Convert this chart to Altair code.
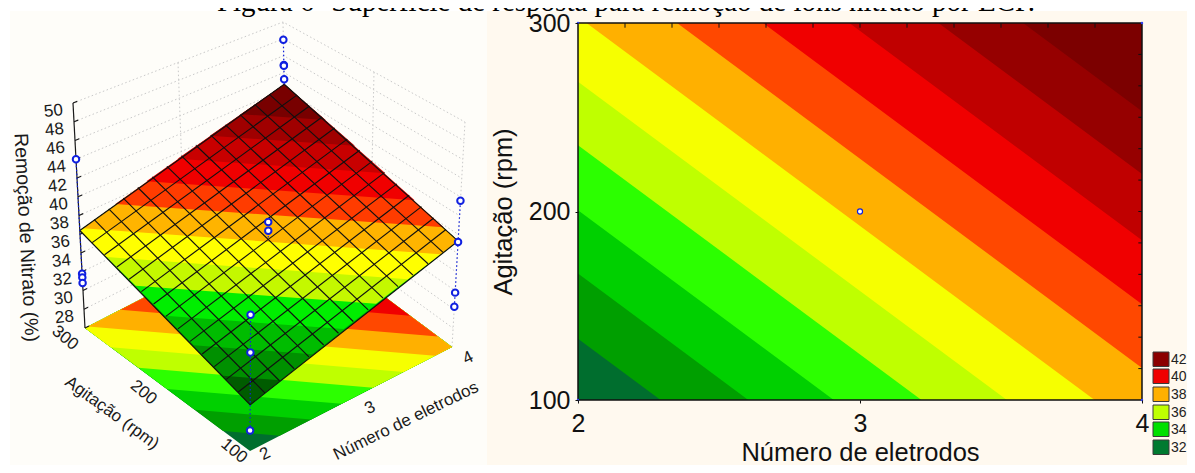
import altair as alt
import pandas as pd

# ---------- values ----------
TITLE = "Figura 6- Superfície de resposta para remoção de íons nitrato por ECP."
X_TICKS = [2, 3, 4]
Y_TICKS = [100, 200, 300]
Z_TICKS = [28, 30, 32, 34, 36, 38, 40, 42, 44, 46, 48, 50]
LEGEND_LABELS = ["42", "40", "38", "36", "34", "32"]
LEGEND_COLORS = ["#8b0000", "#f00000", "#ffb000", "#bfff00", "#00e000", "#007a30"]
LEGEND_TOPS = [344, 361, 379, 397, 414, 432]

# electrode count where each contour level (32..42) meets 100 rpm (past 4 = extended)
LEVEL_X_AT_100 = [2.293, 2.604, 2.907, 3.218, 3.521, 3.832, 4.153, 4.458, 4.764, 5.08, 5.38]
LEVEL_SLOPE = 111.0  # rpm per electrode along a contour
FLAT_COLORS = ["#006e2e", "#009f00", "#00d000", "#2cff00", "#bfff00", "#f6ff00",
               "#ffb000", "#ff4800", "#f00000", "#c00000", "#960000", "#7c0000"]
SURF_COLORS = ["#005c00", "#009000", "#00bc00", "#00ee00", "#c4f800", "#ffff00",
               "#ffb400", "#ff3c00", "#f00000", "#c80000", "#a00000", "#780000"]

# surface height at the four corners (electrodes, rpm, %)
SURF_Z = {(2, 100): 30.5, (2, 300): 36.4, (4, 100): 37.3, (4, 300): 42.6}
MESH_CELLS = 14

# design points: electrodes, rpm, removal %
OBS_X = [4, 4, 4, 4, 2, 2, 2, 2, 4, 4, 4, 4, 3, 3, 2, 2, 2]
OBS_Y = [300, 300, 300, 300, 300, 300, 300, 300, 100, 100, 100, 100, 200, 200, 100, 100, 100]
OBS_Z = [47.9, 44.9, 44.8, 43.2, 44.0, 31.8, 31.4, 30.8, 41.6, 37.2, 31.8, 30.3,
         38.35, 37.4, 39.3, 35.6, 28.0]

# screen position of the 3D box corners, for the camera
FLOOR = {(2, 100): (242, 443), (2, 300): (77, 320), (4, 100): (444, 339), (4, 300): (279, 216)}
ROOF = {(2, 100): (243, 197), (2, 300): (65, 95), (4, 100): (457, 114), (4, 300): (275, 14)}
Z0, Z1 = 26, 50

FONT = "Liberation Sans"
IDENTITY = dict(type="identity", scale=1, translate=[0, 0])


def bilinear(c, x, y):
    u, v = (x - 2) / 2, (y - 100) / 200
    a, b, d, e = c[(2, 100)], c[(4, 100)], c[(2, 300)], c[(4, 300)]
    return (1 - u) * (1 - v) * a + u * (1 - v) * b + (1 - u) * v * d + u * v * e


def project(x, y, z):
    w = (z - Z0) / (Z1 - Z0)
    fx = bilinear({k: p[0] for k, p in FLOOR.items()}, x, y)
    fy = bilinear({k: p[1] for k, p in FLOOR.items()}, x, y)
    tx = bilinear({k: p[0] for k, p in ROOF.items()}, x, y)
    ty = bilinear({k: p[1] for k, p in ROOF.items()}, x, y)
    return [fx + (tx - fx) * w, fy + (ty - fy) * w]


def level_y(xb, x):
    return 100 + (xb - x) * LEVEL_SLOPE


def clip_above(poly, xb):
    out = []
    for i, (x1, y1) in enumerate(poly):
        x2, y2 = poly[(i + 1) % len(poly)]
        d1, d2 = y1 - level_y(xb, x1), y2 - level_y(xb, x2)
        if d1 >= 0:
            out.append((x1, y1))
        if d1 * d2 < 0:
            t = d1 / (d1 - d2)
            out.append((x1 + (x2 - x1) * t, y1 + (y2 - y1) * t))
    return out


def band_polys():
    rect = [(2, 100), (4, 100), (4, 300), (2, 300)]
    yield 0, rect
    for i, xb in enumerate(LEVEL_X_AT_100):
        p = clip_above(rect, xb)
        if len(p) >= 3:
            yield i + 1, p


def poly_feature(points, color):
    ring = points + [points[0]]
    return {"type": "Feature", "properties": {"c": color},
            "geometry": {"type": "Polygon", "coordinates": [ring]}}


def line_feature(points):
    return {"type": "Feature", "properties": {},
            "geometry": {"type": "LineString", "coordinates": points}}


def surf(x, y):
    return project(x, y, bilinear(SURF_Z, x, y))


def polys_chart(features):
    return (alt.Chart(alt.Data(values=features))
            .mark_geoshape(stroke=None)
            .encode(fill=alt.Fill("properties.c:N", scale=None))
            .project(**IDENTITY))


def lines_chart(features, **kw):
    return (alt.Chart(alt.Data(values=features))
            .mark_geoshape(filled=False, **kw)
            .project(**IDENTITY))


def text_chart(rows, angle, size, **kw):
    df = pd.DataFrame(rows, columns=["lon", "lat", "t"])
    return (alt.Chart(df)
            .mark_text(font=FONT, fontSize=size, angle=angle, color="#1a1a1a", **kw)
            .encode(longitude="lon:Q", latitude="lat:Q", text="t:N")
            .project(**IDENTITY))


# ---------- left panel: 3D view ----------
left_bg = alt.Chart(pd.DataFrame({"a": [0]})).mark_rect(color="#fefdf9").encode(
    x=alt.value(2), x2=alt.value(479), y=alt.value(3), y2=alt.value(465))

wall = []
for z in list(range(Z0, Z1 + 1, 2)):
    wall.append(line_feature([project(2, 300, z), project(3, 300, z), project(4, 300, z),
                              project(4, 200, z), project(4, 100, z)]))
for x, y in [(3, 300), (4, 300), (4, 200), (4, 100)]:
    wall.append(line_feature([project(x, y, Z0), project(x, y, Z1)]))
walls = lines_chart(wall, stroke="#c9c9c9", strokeWidth=1, strokeDash=[1.5, 2.5])

floor = polys_chart([poly_feature([project(x, y, Z0) for x, y in p], FLAT_COLORS[i])
                     for i, p in band_polys()])
surface = polys_chart([poly_feature([surf(x, y) for x, y in p], SURF_COLORS[i])
                       for i, p in band_polys()])

mesh = []
for k in range(MESH_CELLS + 1):
    t = k / MESH_CELLS
    mesh.append(line_feature([surf(2 + 2 * t, 100), surf(2 + 2 * t, 300)]))
    mesh.append(line_feature([surf(2, 100 + 200 * t), surf(4, 100 + 200 * t)]))
mesh_chart = lines_chart(mesh, stroke="#101010", strokeWidth=1.15)

axis_lines = [line_feature([project(2, 300, Z0), project(2, 300, Z1)])]
for z in [Z0] + Z_TICKS:
    axis_lines.append(line_feature([project(2, 300, z), project(2.04, 300, z)]))
z_axis = lines_chart(axis_lines, stroke="#1a1a1a", strokeWidth=1.2)

drops = []
seen = {}
for x, y, z in zip(OBS_X, OBS_Y, OBS_Z):
    seen.setdefault((x, y), []).append(z)
for (x, y), zs in seen.items():
    s = bilinear(SURF_Z, x, y)
    drops.append(line_feature([project(x, y, min(zs + [s])), project(x, y, max(zs + [s]))]))
drop_chart = lines_chart(drops, stroke="#1020e0", strokeWidth=1.2, strokeDash=[1.5, 2.5])

obs_df = pd.DataFrame([project(x, y, z) for x, y, z in zip(OBS_X, OBS_Y, OBS_Z)],
                      columns=["lon", "lat"])
obs = (alt.Chart(obs_df)
       .mark_point(shape="circle", filled=True, fill="white", stroke="#1020e0",
                   strokeWidth=2, size=42, opacity=1)
       .encode(longitude="lon:Q", latitude="lat:Q")
       .project(**IDENTITY))


def shifted(x, y, z, dx, dy, text):
    p = project(x, y, z)
    return [p[0] + dx, p[1] + dy, text]


Y_LABEL_SHIFT = {100: (-16, 0), 200: (-24, 3), 300: (-20, 10)}
X_LABEL_SHIFT = {2: (15, 3), 3: (19, 9), 4: (16, 11)}

z_labels = text_chart([shifted(2, 300, z, -19.5, 8, str(z)) for z in Z_TICKS], 354, 17,
                      align="center", baseline="middle")
y_labels = text_chart([shifted(2, y, Z0, *Y_LABEL_SHIFT[y], str(y)) for y in Y_TICKS], 40, 17,
                      align="center", baseline="middle")
x_labels = text_chart([shifted(x, 100, Z0, *X_LABEL_SHIFT[x], str(x)) for x in X_TICKS], 334, 17,
                      align="center", baseline="middle")
z_title = text_chart([shifted(2, 300, 38, -53, 22, "Remoção de Nitrato (%)")], 87, 19.5,
                     align="center", baseline="middle")
y_title = text_chart([shifted(2, 200, Z0, -55.5, 23.5, "Agitação (rpm)")], 36, 17,
                     align="center", baseline="middle")
x_title = text_chart([shifted(3, 100, Z0, 55, 22, "Número de eletrodos")], 334, 17,
                     align="center", baseline="middle")

left = alt.layer(left_bg, walls, floor, z_axis, surface, mesh_chart, drop_chart, obs,
                 z_labels, y_labels, x_labels, z_title, y_title, x_title
                 ).properties(width=479, height=465)

# ---------- right panel: contour ----------
PX_X0, PX_X1, PX_Y300, PX_Y100, W, H = 91, 655, 15, 392, 708, 465
ux = (PX_X1 - PX_X0) / 2
uy = (PX_Y100 - PX_Y300) / 200
xs = alt.Scale(domain=[2 - PX_X0 / ux, 2 + (W - PX_X0) / ux], nice=False, zero=False)
ys = alt.Scale(domain=[100 - (H - PX_Y100) / uy, 300 + PX_Y300 / uy], nice=False, zero=False)

right_bg = alt.Chart(pd.DataFrame({"a": [0]})).mark_rect(color="#fff9ef").encode(
    x=alt.value(0), x2=alt.value(W), y=alt.value(3), y2=alt.value(H))

axis_style = dict(grid=False, domain=False, labelFont=FONT, labelFontSize=25, titleFont=FONT,
                  titleFontSize=25.5, titleFontWeight="normal", labelColor="#111",
                  titleColor="#111", tickColor="#111", tickSize=3, labelOverlap=False,
                  format="d", zindex=1)
x_axis = alt.Axis(values=X_TICKS, title="Número de eletrodos", offset=-(H - PX_Y100),
                  labelPadding=8, titlePadding=4, titleX=(PX_X0 + PX_X1) / 2, **axis_style)
y_axis = alt.Axis(values=Y_TICKS, title="Agitação (rpm)", offset=-PX_X0,
                  labelPadding=5, titlePadding=12, titleY=(PX_Y300 + PX_Y100) / 2, **axis_style)


def X(f):
    return alt.X(f, scale=xs, axis=x_axis)


def Y(f):
    return alt.Y(f, scale=ys, axis=y_axis)


full = pd.DataFrame({"x": [2, 4], "y": [100, 100], "y2": [300, 300]})
contour = [alt.Chart(full).mark_area(color=FLAT_COLORS[0]).encode(
    x=X("x:Q"), y=Y("y:Q"), y2="y2:Q")]
for i, xb in enumerate(LEVEL_X_AT_100):
    stops = sorted({2.0, 4.0} | {v for v in (xb, xb - 200 / LEVEL_SLOPE) if 2 < v < 4})
    rows = [{"x": v, "y": min(300, max(100, level_y(xb, v))), "y2": 300} for v in stops]
    contour.append(alt.Chart(pd.DataFrame(rows)).mark_area(color=FLAT_COLORS[i + 1]).encode(
        x=X("x:Q"), y=Y("y:Q"), y2="y2:Q"))

frame = alt.Chart(pd.DataFrame({"x": [2], "x2": [4], "y": [100], "y2": [300]})).mark_rect(
    fillOpacity=0, stroke="#111", strokeWidth=1.5).encode(
    x=X("x:Q"), x2="x2:Q", y=Y("y:Q"), y2="y2:Q")

TOP_TICKS = [2 + k / 6 for k in range(1, 12)]
RIGHT_TICKS = [100 + k * 200 / 12 for k in range(1, 12)]
top_ticks = alt.Chart(pd.DataFrame({"x": TOP_TICKS, "y": 300, "y2": 297.5})).mark_rule(
    color="#111", strokeWidth=1).encode(x=X("x:Q"), y=Y("y:Q"), y2="y2:Q")
right_ticks = alt.Chart(pd.DataFrame({"y": RIGHT_TICKS, "x": 4, "x2": 3.987})).mark_rule(
    color="#111", strokeWidth=1).encode(x=X("x:Q"), x2="x2:Q", y=Y("y:Q"))

center = alt.Chart(pd.DataFrame({"x": [3], "y": [200]})).mark_point(
    shape="circle", filled=True, fill="white", stroke="#1020e0", strokeWidth=1.2, size=26,
    opacity=1).encode(x=X("x:Q"), y=Y("y:Q"))
corners = alt.Chart(pd.DataFrame({"x": [2, 2, 4, 4], "y": [100, 300, 100, 300]})).mark_point(
    shape="circle", filled=True, fill="#3040f0", strokeWidth=0, size=6, opacity=1).encode(
    x=X("x:Q"), y=Y("y:Q"))

legend = []
for label, color, top in zip(LEGEND_LABELS, LEGEND_COLORS, LEGEND_TOPS):
    row = pd.DataFrame({"t": [label]})
    legend.append(alt.Chart(row).mark_rect(color=color, stroke="#3a3a3a", strokeWidth=1).encode(
        x=alt.value(666), x2=alt.value(682), y=alt.value(top), y2=alt.value(top + 14.5)))
    legend.append(alt.Chart(row).mark_text(font=FONT, fontSize=14, align="left",
                                           baseline="middle", color="#222").encode(
        x=alt.value(684), y=alt.value(top + 7.5), text="t:N"))

title = alt.Chart(pd.DataFrame({"t": [TITLE]})).mark_text(
    font="Liberation Serif", fontSize=29, align="center", baseline="alphabetic",
    color="#000").encode(x=alt.value(139), y=alt.value(3), text="t:N")

right = alt.layer(right_bg, *contour, frame, top_ticks, right_ticks, corners, center,
                  *legend, title).properties(width=W, height=H)

chart = (alt.hconcat(left, right, spacing=0, bounds="flush")
         .properties(padding={"left": 0, "top": -20, "right": -8, "bottom": -8},
                     background="white")
         .configure_view(stroke=None))

chart.save("out.html", embed_options={"renderer": "svg", "actions": False})
